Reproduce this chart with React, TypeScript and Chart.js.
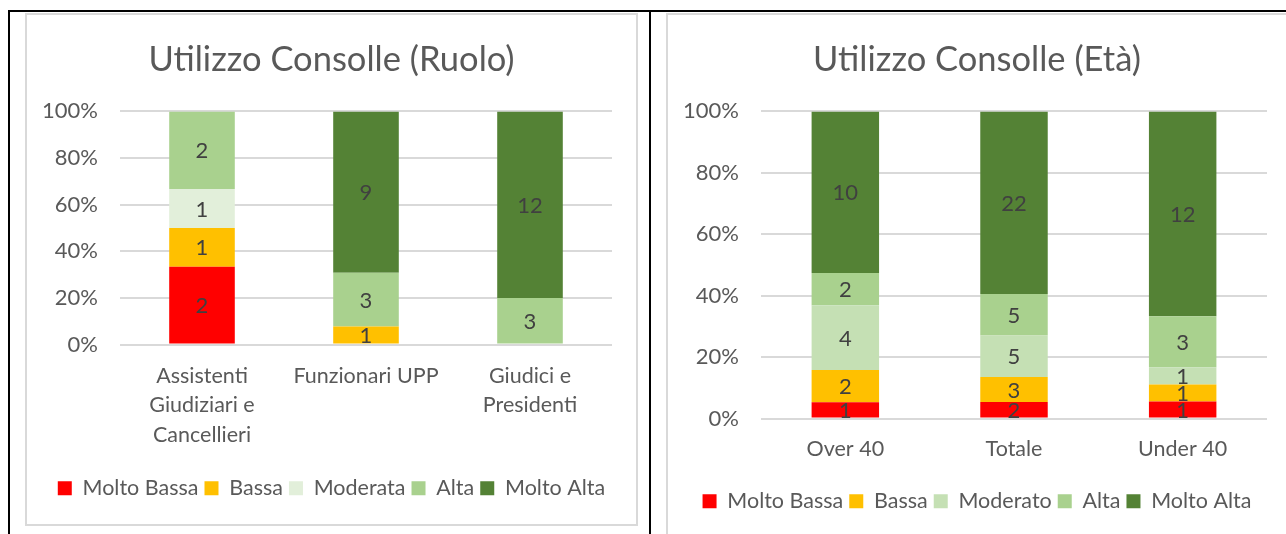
import React, { useEffect, useRef } from "react";
import { Chart, registerables } from "chart.js";

Chart.register(...registerables);

// ---------- DATA ----------
const roleCategories: (string | string[])[] = [
  ["Assistenti", "Giudiziari e", "Cancellieri"],
  "Funzionari UPP",
  ["Giudici e", "Presidenti"],
];
const roleSeriesNames = ["Molto Bassa", "Bassa", "Moderata", "Alta", "Molto Alta"];
const roleMoltoBassa = [2, 0, 0];
const roleBassa = [1, 1, 0];
const roleModerata = [1, 0, 0];
const roleAlta = [2, 3, 3];
const roleMoltoAlta = [0, 9, 12];

const ageCategories = ["Over 40", "Totale", "Under 40"];
const ageSeriesNames = ["Molto Bassa", "Bassa", "Moderato", "Alta", "Molto Alta"];
const ageMoltoBassa = [1, 2, 1];
const ageBassa = [2, 3, 1];
const ageModerato = [4, 5, 1];
const ageAlta = [2, 5, 3];
const ageMoltoAlta = [10, 22, 12];

const yTickValues = [0, 20, 40, 60, 80, 100];

const roleColors = ["#FF0000", "#FFC000", "#E2EFDA", "#A9D18E", "#548235"];
const ageColors = ["#FF0000", "#FFC000", "#C5E0B4", "#A9D18E", "#548235"];

const FONT = "Lato";
const TEXT = "#595959";

const segLabelPlugin = {
  id: "segLabels",
  afterDatasetsDraw(chart: any) {
    const ctx = chart.ctx;
    ctx.save();
    ctx.font = `22px ${FONT}`;
    ctx.fillStyle = "#404040";
    ctx.textAlign = "center";
    ctx.textBaseline = "middle";
    chart.data.datasets.forEach((ds: any, i: number) => {
      const meta = chart.getDatasetMeta(i);
      if (meta.hidden) return;
      meta.data.forEach((el: any, j: number) => {
        const c = ds.counts[j];
        if (!c) return;
        const p = el.getProps(["x", "y", "base"], true);
        ctx.fillText(String(c), p.x, (p.y + p.base) / 2 + 1);
      });
    });
    ctx.restore();
  },
};

function buildDatasets(names: string[], series: number[][], colors: string[]) {
  const n = series[0].length;
  const totals: number[] = [];
  for (let j = 0; j < n; j++) {
    let s = 0;
    series.forEach((arr) => (s += arr[j]));
    totals.push(s);
  }
  return names.map((name, i) => ({
    label: name,
    data: series[i].map((v, j) => (totals[j] ? (v / totals[j]) * 100 : 0)),
    counts: series[i],
    backgroundColor: colors[i],
    borderWidth: 0,
    categoryPercentage: 1,
    barPercentage: 0.4,
  }));
}

interface PanelProps {
  title: string;
  labels: (string | string[])[];
  datasets: any[];
  width: number;
  height: number;
  yAxisWidth: number;
  padRight: number;
  titlePadTop: number;
  titlePadBottom: number;
  xAxisHeight: number;
  xTickPad: number;
  legendPadBottom: number;
}

function ChartPanel(p: PanelProps) {
  const ref = useRef<HTMLCanvasElement | null>(null);
  useEffect(() => {
    if (!ref.current) return;
    const chart = new Chart(ref.current, {
      type: "bar",
      data: { labels: p.labels as any, datasets: p.datasets },
      plugins: [segLabelPlugin],
      options: {
        animation: false,
        responsive: false,
        maintainAspectRatio: false,
        layout: { padding: { left: 0, right: 0, top: 0, bottom: p.legendPadBottom } },
        plugins: {
          title: {
            display: true,
            text: p.title,
            color: TEXT,
            font: { family: FONT, size: 34.5, weight: "normal" as any },
            padding: { top: p.titlePadTop, bottom: p.titlePadBottom },
          },
          legend: {
            display: true,
            position: "bottom",
            labels: {
              color: TEXT,
              font: { family: FONT, size: 21.5 },
              boxWidth: 14,
              boxHeight: 14,
              padding: 6,
            },
          },
          tooltip: { enabled: false },
        },
        scales: {
          x: {
            stacked: true,
            grid: { display: false, drawTicks: false },
            border: { display: false },
            ticks: {
              color: TEXT,
              font: { family: FONT, size: 21.5, lineHeight: 1.36 },
              padding: p.xTickPad,
              maxRotation: 0,
              autoSkip: false,
            },
            afterFit: (s: any) => {
              s.height = p.xAxisHeight;
            },
          },
          y: {
            stacked: true,
            min: 0,
            max: 100,
            afterBuildTicks: (s: any) => {
              s.ticks = yTickValues.map((v) => ({ value: v }));
            },
            grid: { color: "#D9D9D9", lineWidth: 2, drawTicks: false },
            border: { display: false },
            ticks: {
              color: TEXT,
              font: { family: FONT, size: 22 },
              padding: 22,
              callback: (v: any) => `${v}%`,
            },
            afterFit: (s: any) => {
              s.width = p.yAxisWidth;
            },
          },
          ySpacer: {
            position: "right",
            min: 0,
            max: 100,
            grid: { display: false, drawTicks: false },
            border: { display: false },
            ticks: { display: false },
            afterFit: (s: any) => {
              s.width = p.padRight;
            },
          },
        },
      } as any,
    });
    return () => chart.destroy();
  }, []);
  return <canvas ref={ref} width={p.width} height={p.height} style={{ width: p.width, height: p.height, display: "block" }} />;
}

export default function App() {
  const roleDatasets = buildDatasets(
    roleSeriesNames,
    [roleMoltoBassa, roleBassa, roleModerata, roleAlta, roleMoltoAlta],
    roleColors
  );
  const ageDatasets = buildDatasets(
    ageSeriesNames,
    [ageMoltoBassa, ageBassa, ageModerato, ageAlta, ageMoltoAlta],
    ageColors
  );
  return (
    <div style={{ position: "absolute", left: 0, top: 0, width: 1286, height: 534, background: "#fff", overflow: "hidden" }}>
      {/* table borders */}
      <div style={{ position: "absolute", left: 8, top: 10, width: 1278, height: 2, background: "#000" }} />
      <div style={{ position: "absolute", left: 8, top: 10, width: 2, height: 524, background: "#000" }} />
      <div style={{ position: "absolute", left: 649, top: 10, width: 2, height: 524, background: "#000" }} />
      {/* left chart frame */}
      <div style={{ position: "absolute", left: 25, top: 13, width: 609, height: 509, border: "2px solid #D9D9D9" }}>
        <ChartPanel
          title="Utilizzo Consolle (Ruolo)"
          labels={roleCategories}
          datasets={roleDatasets}
          width={609}
          height={509}
          yAxisWidth={93}
          padRight={24}
          titlePadTop={24}
          titlePadBottom={31}
          xAxisHeight={127}
          xTickPad={17}
          legendPadBottom={15}
        />
      </div>
      {/* right chart frame */}
      <div style={{ position: "absolute", left: 666, top: 13, width: 640, height: 540, border: "2px solid #D9D9D9" }}>
        <ChartPanel
          title="Utilizzo Consolle (Età)"
          labels={ageCategories}
          datasets={ageDatasets}
          width={618}
          height={519}
          yAxisWidth={93}
          padRight={19}
          titlePadTop={24}
          titlePadBottom={31}
          xAxisHeight={66}
          xTickPad={16}
          legendPadBottom={12}
        />
      </div>
    </div>
  );
}
